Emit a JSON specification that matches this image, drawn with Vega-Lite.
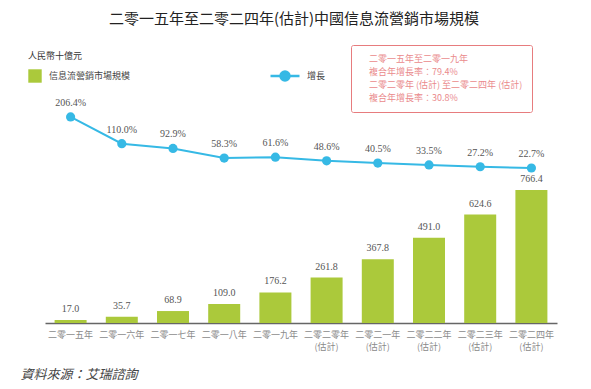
{
  "$schema": "https://vega.github.io/schema/vega-lite/v6.json",
  "width": 512,
  "height": 223,
  "autosize": "none",
  "padding": {"left": 45, "top": 100, "right": 34, "bottom": 66},
  "background": "white",
  "title": {
    "text": "二零一五年至二零二四年(估計)中國信息流營銷市場規模",
    "font": "Noto Sans CJK TC",
    "fontSize": 15,
    "fontWeight": "normal",
    "color": "#222222",
    "anchor": "middle",
    "offset": 18,
    "dx": -7
  },
  "config": {
    "view": {"stroke": null},
    "font": "Noto Sans CJK TC"
  },
  "data": {
    "values": [
      {"year": "二零一五年", "size": 17.0, "growth": 2.064},
      {"year": "二零一六年", "size": 35.7, "growth": 1.100},
      {"year": "二零一七年", "size": 68.9, "growth": 0.929},
      {"year": "二零一八年", "size": 109.0, "growth": 0.583},
      {"year": "二零一九年", "size": 176.2, "growth": 0.616},
      {"year": "二零二零年(估計)", "size": 261.8, "growth": 0.486},
      {"year": "二零二一年(估計)", "size": 367.8, "growth": 0.405},
      {"year": "二零二二年(估計)", "size": 491.0, "growth": 0.335},
      {"year": "二零二三年(估計)", "size": 624.6, "growth": 0.272},
      {"year": "二零二四年(估計)", "size": 766.4, "growth": 0.227}
    ]
  },
  "encoding": {
    "x": {
      "field": "year",
      "type": "nominal",
      "sort": null,
      "scale": {"paddingInner": 0.375, "paddingOuter": 0.1875},
      "axis": {
        "labelAngle": 0,
        "labelExpr": "length(datum.label) > 5 ? [substring(datum.label, 0, 5), substring(datum.label, 5)] : datum.label",
        "labelFont": "Noto Sans CJK TC",
        "labelFontSize": 9,
        "labelColor": "#8a8a8a",
        "labelPadding": 7,
        "labelLineHeight": 12,
        "ticks": false,
        "domainColor": "#666666",
        "domainWidth": 1.5,
        "grid": false,
        "title": "資料來源：艾瑞諮詢",
        "titleFont": "Noto Sans CJK TC",
        "titleFontSize": 13,
        "titleFontStyle": "italic",
        "titleFontWeight": "normal",
        "titleColor": "#444444",
        "titleAnchor": "start",
        "titleAlign": "left",
        "titleBaseline": "middle",
        "titleX": -25,
        "titleY": 51
      }
    }
  },
  "layer": [
    {
      "encoding": {
        "y": {
          "field": "size",
          "type": "quantitative",
          "scale": {"domain": [0, 1285], "nice": false},
          "axis": null
        }
      },
      "layer": [
        {
          "mark": {"type": "bar"},
          "encoding": {
            "fill": {
              "datum": "信息流營銷市場規模",
              "scale": {"range": ["#abc93b"]},
              "legend": {
                "orient": "none",
                "legendX": -17,
                "legendY": -48,
                "title": "人民幣十億元",
                "titleFont": "Noto Sans CJK TC",
                "titleFontSize": 9,
                "titleFontWeight": "normal",
                "titleColor": "#333333",
                "titlePadding": 8,
                "symbolType": "square",
                "symbolSize": 180,
                "symbolStrokeWidth": 0,
                "labelFont": "Noto Sans CJK TC",
                "labelFontSize": 9,
                "labelColor": "#444444",
                "labelOffset": 7
              }
            }
          }
        },
        {
          "mark": {"type": "text", "baseline": "bottom", "dy": -6, "font": "Liberation Serif", "fontSize": 10, "color": "#555555"},
          "encoding": {
            "text": {"field": "size", "type": "quantitative", "format": ".1f"}
          }
        }
      ]
    },
    {
      "encoding": {
        "y": {
          "field": "growth",
          "type": "quantitative",
          "scale": {"domain": [-5.35, 2.673], "nice": false, "zero": false},
          "axis": null
        }
      },
      "layer": [
        {
          "mark": {"type": "line", "strokeWidth": 2},
          "encoding": {
            "stroke": {
              "datum": "增長",
              "scale": {"range": ["#36b9e5"]},
              "legend": {
                "orient": "none",
                "legendX": 224,
                "legendY": -40,
                "title": null,
                "symbolType": "M-1,0L1,0M0.31,0A0.31,0.31,0,1,1,-0.31,0A0.31,0.31,0,1,1,0.31,0Z",
                "symbolSize": 841,
                "symbolStrokeWidth": 2.5,
                "symbolFillColor": "#36b9e5",
                "labelFont": "Noto Sans CJK TC",
                "labelFontSize": 9,
                "labelColor": "#444444",
                "labelOffset": 6
              }
            },
            "opacity": {
              "datum": "二零一五年至二零一九年",
              "type": "nominal",
              "scale": {
                "domain": ["二零一五年至二零一九年", "複合年增長率：79.4%", "二零二零年 (估計) 至二零二四年 (估計)", "複合年增長率：30.8%"],
                "range": [1, 1, 1, 1]
              },
              "legend": {
                "orient": "none",
                "legendX": 306,
                "legendY": -55,
                "title": null,
                "padding": 9,
                "strokeColor": "#e77c7e",
                "cornerRadius": 2,
                "symbolSize": 0,
                "symbolStrokeWidth": 0,
                "symbolOpacity": 0,
                "labelOffset": 0,
                "labelFont": "Noto Sans CJK TC",
                "labelFontSize": 9,
                "labelColor": "#ea8a8c",
                "labelLimit": 300,
                "rowPadding": 3,
                "encode": {
                  "legend": {"update": {"strokeWidth": {"value": 2}}}
                }
              }
            }
          }
        },
        {
          "mark": {"type": "point", "filled": true, "size": 85, "opacity": 1, "color": "#36b9e5"}
        },
        {
          "mark": {"type": "text", "baseline": "bottom", "dy": -9, "font": "Liberation Serif", "fontSize": 10, "color": "#555555"},
          "encoding": {
            "text": {"field": "growth", "type": "quantitative", "format": ".1%"}
          }
        }
      ]
    }
  ],
  "resolve": {"scale": {"y": "independent"}}
}
